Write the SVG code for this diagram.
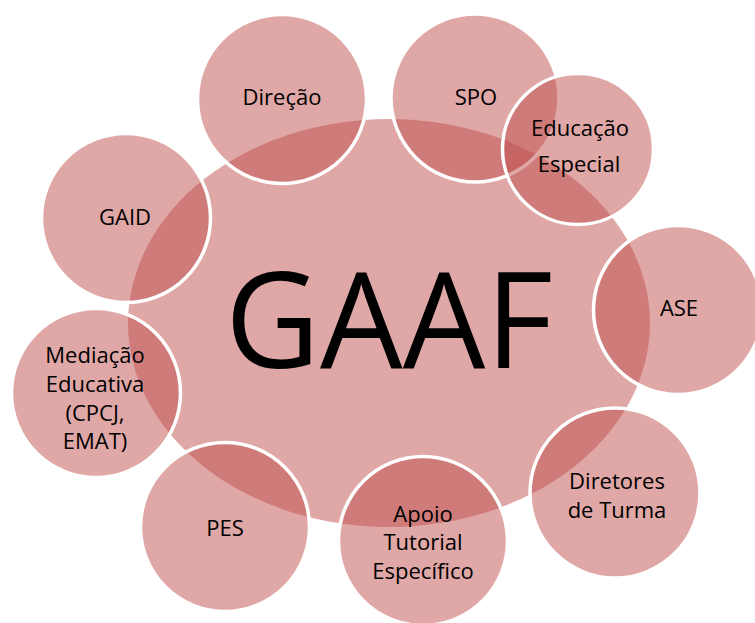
<svg xmlns="http://www.w3.org/2000/svg" width="755" height="623" viewBox="0 0 755 623">
<style>
.c{fill:#c0504d;fill-opacity:0.5;stroke:#ffffff;stroke-width:3.5}
.m{fill:#c0504d;fill-opacity:0.5;stroke:none}
.t{font-family:"Open Sans","Liberation Sans",sans-serif;font-size:22px;fill:#000;text-anchor:middle}
.g{font-family:"Open Sans","Liberation Sans",sans-serif;font-size:134px;fill:#000;text-anchor:middle}
</style>
<rect width="755" height="623" fill="#ffffff"/>
<g id="connectors"></g>
<g id="center">
<ellipse class="m" cx="389" cy="323" rx="261" ry="204"/>
<text class="g" x="389" y="368" textLength="328" lengthAdjust="spacingAndGlyphs">GAAF</text>
</g>
<g id="direcao">
<circle class="c" cx="282" cy="99" r="84.5"/>
<text class="t" x="282" y="105">Direção</text>
</g>
<g id="spo">
<circle class="c" cx="475" cy="98" r="84"/>
<text class="t" x="476" y="105">SPO</text>
</g>
<g id="educacao">
<circle class="c" cx="578" cy="149" r="75.5"/>
<text class="t" x="580" y="136">Educação</text>
<text class="t" x="579" y="172">Especial</text>
</g>
<g id="gaid">
<circle class="c" cx="126" cy="218" r="84.5"/>
<text class="t" x="125" y="225">GAID</text>
</g>
<g id="ase">
<circle class="c" cx="678" cy="310" r="84.5"/>
<text class="t" x="679" y="316">ASE</text>
</g>
<g id="mediacao">
<circle class="c" cx="96" cy="393" r="84.5"/>
<text class="t" x="95" y="363">Mediação</text>
<text class="t" x="95" y="392">Educativa</text>
<text class="t" x="95" y="421">(CPCJ,</text>
<text class="t" x="95" y="449">EMAT)</text>
</g>
<g id="pes">
<circle class="c" cx="225" cy="527" r="84.5"/>
<text class="t" x="225" y="536">PES</text>
</g>
<g id="apoio">
<circle class="c" cx="423" cy="541" r="84.5"/>
<text class="t" x="423" y="522">Apoio</text>
<text class="t" x="423" y="550">Tutorial</text>
<text class="t" x="423" y="579">Específico</text>
</g>
<g id="diretores">
<circle class="c" cx="615" cy="493" r="85"/>
<text class="t" x="617" y="489">Diretores</text>
<text class="t" x="617" y="518">de Turma</text>
</g>
</svg>
